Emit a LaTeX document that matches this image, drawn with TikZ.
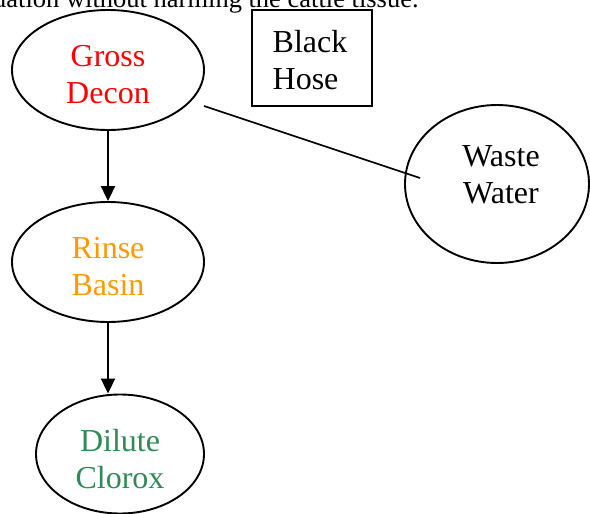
\documentclass[tikz,border=0pt]{standalone}
\usepackage{fontspec}
\setmainfont{Liberation Serif}
\usetikzlibrary{arrows.meta,shapes.geometric}
\definecolor{rinseorange}{RGB}{255,153,0}
\definecolor{cloroxgreen}{RGB}{46,139,87}
\begin{document}
\begin{tikzpicture}[x=1pt,y=-1pt,
  txt/.style={font=\fontsize{32}{37}\selectfont, align=center, inner sep=0pt},
  ell/.style={draw, ellipse, inner sep=0pt, line width=1.9pt},
  arr/.style={line width=2pt, -{Triangle[length=15pt,width=14pt]}},
  plain/.style={line width=1.7pt}]
\clip (0,0) rectangle (590,514);
\node[anchor=base west, inner sep=0pt, font=\fontsize{26.5}{30}\selectfont] (cap) at (-7,8) {uation without harming the cattle tissue.};
\node[ell, minimum width=192pt, minimum height=120pt] (gross) at (108,70) {};
\node[txt, text=red] (grosstxt) at (108,75) {Gross\\Decon};
\node[ell, minimum width=192pt, minimum height=120pt] (rinse) at (108,262) {};
\node[txt, text=rinseorange] (rinsetxt) at (108,267) {Rinse\\Basin};
\node[ell, minimum width=168pt, minimum height=119pt] (clorox) at (120,454) {};
\node[txt, text=cloroxgreen] (cloroxtxt) at (120,459) {Dilute\\Clorox};
\node[ell, minimum width=184pt, minimum height=158pt] (waste) at (497,184) {};
\node[txt] (wastetxt) at (501,175) {Waste\\Water};
\node[draw, line width=1.7pt, minimum width=120pt, minimum height=96pt] (hose) at (312,58) {};
\node[txt, align=left] (hosetxt) at (310,60) {Black\\Hose};
\coordinate (ls) at (204,106);
\coordinate (le) at (420,178);
\draw[arr] (gross.south) -- (rinse.north);
\draw[arr] (rinse.south) -- (rinse.south |- clorox.north);
\draw[plain] (ls) -- (le);
\end{tikzpicture}
\end{document}
